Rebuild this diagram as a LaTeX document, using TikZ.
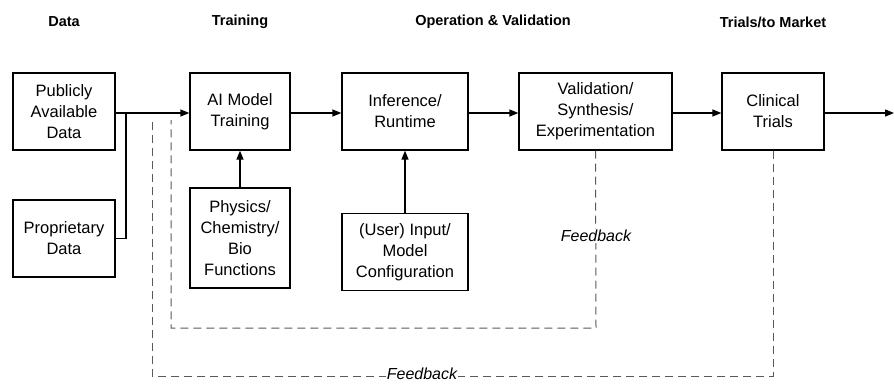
\documentclass[tikz,border=0pt]{standalone}
\usepackage{fontspec}
\setmainfont{Liberation Sans}
\usetikzlibrary{arrows.meta}
\begin{document}
\begin{tikzpicture}[x=1pt,y=-1pt,
  box/.style={draw, line width=1.3pt, align=center, font=\fontsize{16.5}{21}\selectfont, inner sep=0pt},
  hdr/.style={font=\fontsize{14.5}{17}\selectfont\bfseries},
  flow/.style={line width=1.3pt, -{Triangle[length=9pt,width=7pt]}},
  link/.style={line width=1.3pt},
  fb/.style={dashed, dash pattern=on 8pt off 5pt, line width=1pt, draw=black!65},
  fblab/.style={font=\fontsize{16}{18}\selectfont\itshape, fill=white, inner sep=1pt}]
\useasboundingbox (0,0) rectangle (894,384);
% headers
\node[hdr] (hdata) at (64,22) {Data};
\node[hdr] (htrain) at (240,22) {Training};
\node[hdr] (hop) at (493,22) {Operation \& Validation};
\node[hdr] (htrial) at (773,22) {Trials/to Market};
% boxes
\node[box, minimum width=102pt, minimum height=77pt] (pub) at (64,111.5) {Publicly\\Available\\Data};
\node[box, minimum width=102pt, minimum height=77pt] (prop) at (64,238.5) {Proprietary\\Data};
\node[box, minimum width=100pt, minimum height=77pt] (ai) at (240,111.5) {AI Model\\Training};
\node[box, minimum width=100pt, minimum height=100pt] (phys) at (240,238) {Physics/\\Chemistry/\\Bio\\Functions};
\node[box, minimum width=126pt, minimum height=77pt] (inf) at (405,111.5) {Inference/\\Runtime};
\node[box, minimum width=126pt, minimum height=77pt] (user) at (405,252) {(User) Input/\\Model\\Configuration};
\node[box, minimum width=153pt, minimum height=77pt] (val) at (595.5,111.5) {Validation/\\Synthesis/\\Experimentation};
\node[box, minimum width=102pt, minimum height=77pt] (clin) at (773,111.5) {Clinical\\Trials};
\coordinate (out) at (894,113);
% coordinates
\coordinate (j) at (126,113);
\coordinate (fa) at (171,120);
\coordinate (fb) at (152,120);
% main flow
\draw[flow] (pub.east |- j) -- (ai.west |- j);
\draw[link] (prop.east) -| (j);
\draw[flow] (ai.east |- j) -- (inf.west |- j);
\draw[flow] (inf.east |- j) -- (val.west |- j);
\draw[flow] (val.east |- j) -- (clin.west |- j);
\draw[flow] (clin.east |- j) -- (out);
\draw[flow] (phys.north) -- (ai.south);
\draw[flow] (user.north) -- (inf.south);
% feedback
\draw[fb] (val.south) -- (596,328) -- (171,328) -- (fa);
\draw[fb] (clin.south) -- (773,376) -- (152,376) -- (fb);
\node[fblab] (fl1) at (596,236) {Feedback};
\node[fblab] (fl2) at (422,374) {Feedback};
\end{tikzpicture}
\end{document}
